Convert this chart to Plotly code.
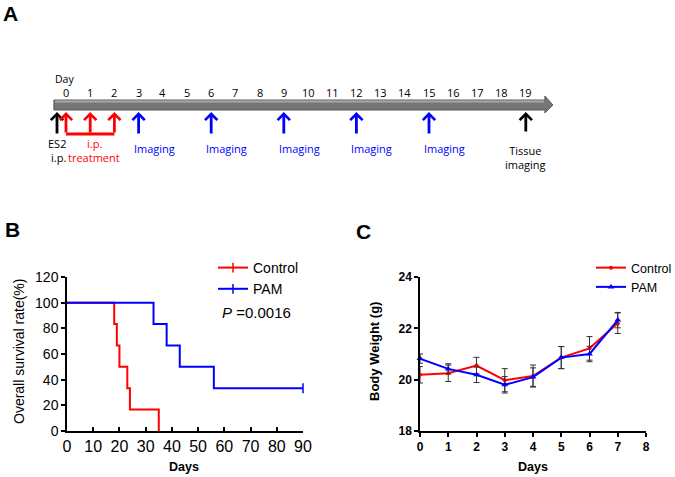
import plotly.graph_objects as go

# ---- Panel A: experiment timeline ----
timeline_days = list(range(20))
es2_days = [0]
treatment_days = [0, 1, 2]
imaging_days = [3, 6, 9, 12, 15]
tissue_days = [19]

# ---- Panel B: overall survival (Kaplan-Meier steps) ----
ctrl_time = [0, 18, 19, 20, 23, 24, 35]
ctrl_surv = [100, 83.3, 66.7, 50, 33.3, 16.7, 0]
pam_time = [0, 33, 38, 43, 56, 90]
pam_surv = [100, 83.3, 66.7, 50, 33.3, 33.3]
pam_censor_time = [90]
pam_censor_surv = [33.3]
p_value = "0.0016"

# ---- Panel C: body weight ----
weight_days = [0, 1, 2, 3, 4, 5, 6, 7]
ctrl_weight = [20.19, 20.25, 20.55, 19.98, 20.14, 20.86, 21.22, 22.2]
ctrl_err = [0.32, 0.32, 0.32, 0.45, 0.43, 0.43, 0.46, 0.4]
pam_weight = [20.82, 20.42, 20.19, 19.8, 20.1, 20.86, 21.0, 22.32]
pam_err = [0.18, 0.2, 0.3, 0.32, 0.36, 0.43, 0.3, 0.3]

RED = "#ff0000"
BLUE = "#0000ff"
FONT = "Arial"
TL_FONT = "Open Sans"

W, H = 675, 477


def px_x(p):
    return p / W


def px_y(p):
    return 1 - p / H


fig = go.Figure()

# timeline bar (arrow shaped), drawn on the day axis
bar_x = [-0.5, 19.79, 19.79, 20.12, 19.79, 19.79, -0.5, -0.5]
bar_y = [px_y(100), px_y(100), px_y(96), px_y(105), px_y(113), px_y(110), px_y(110), px_y(100)]
fig.add_trace(go.Scatter(x=bar_x, y=bar_y, mode="lines", fill="toself",
                         fillcolor="#767676", line=dict(color="#5a5a5a", width=1),
                         xaxis="x3", yaxis="y3", showlegend=False, hoverinfo="skip"))
fig.add_trace(go.Scatter(x=[-0.45, 19.75], y=[px_y(101.5)] * 2, mode="lines",
                         line=dict(color="#a8a8a8", width=2),
                         xaxis="x3", yaxis="y3", showlegend=False, hoverinfo="skip"))
# bracket joining the treatment arrows
fig.add_trace(go.Scatter(x=[treatment_days[0], treatment_days[-1]], y=[px_y(134)] * 2,
                         mode="lines", line=dict(color=RED, width=2.8),
                         xaxis="x3", yaxis="y3", showlegend=False, hoverinfo="skip"))

# ---- Panel B traces ----
fig.add_trace(go.Scatter(x=ctrl_time, y=ctrl_surv, mode="lines", line_shape="hv",
                         line=dict(color=RED, width=2), cliponaxis=False,
                         legendgroup="c", showlegend=False))
fig.add_trace(go.Scatter(x=pam_time, y=pam_surv, mode="lines", line_shape="hv",
                         line=dict(color=BLUE, width=2), cliponaxis=False,
                         legendgroup="p", showlegend=False))
fig.add_trace(go.Scatter(x=pam_censor_time, y=pam_censor_surv, mode="markers",
                         marker=dict(symbol="line-ns-open", size=7, color=BLUE,
                                     line=dict(color=BLUE, width=1.5)),
                         cliponaxis=False, legendgroup="p", showlegend=False))
# legend entries
for name, col, grp in [("Control", RED, "c"), ("PAM", BLUE, "p")]:
    fig.add_trace(go.Scatter(x=[None], y=[None], mode="lines+markers", name=name,
                             line=dict(color=col, width=2), legendgroup=grp,
                             marker=dict(symbol="line-ns-open", size=7, color=col,
                                         line=dict(color=col, width=1.5))))

# ---- Panel C traces ----
fig.add_trace(go.Scatter(x=weight_days, y=ctrl_weight, mode="lines+markers", name="Control",
                         line=dict(color=RED, width=2), marker=dict(symbol="circle", size=4, color=RED),
                         error_y=dict(type="data", array=ctrl_err, color="#333333", thickness=1, width=3),
                         xaxis="x2", yaxis="y2", legend="legend2", cliponaxis=False))
fig.add_trace(go.Scatter(x=weight_days, y=pam_weight, mode="lines+markers", name="PAM",
                         line=dict(color=BLUE, width=2), marker=dict(symbol="triangle-up", size=6, color=BLUE),
                         error_y=dict(type="data", array=pam_err, color="#333333", thickness=1, width=3),
                         xaxis="x2", yaxis="y2", legend="legend2", cliponaxis=False))

annotations = []

# panel letters
for letter, x, y in [("A", 10, 13), ("B", 12, 229), ("C", 363, 231)]:
    annotations.append(dict(text=letter, x=px_x(x), y=px_y(y), xref="paper", yref="paper",
                            showarrow=False, font=dict(family=FONT, size=21, color="black", weight="bold")))

# timeline day labels
annotations.append(dict(text="Day", x=0, y=px_y(79), xref="x3", yref="paper", xanchor="left",
                        xshift=-13, showarrow=False, font=dict(family=TL_FONT, size=10.5, color="black")))
for d in timeline_days:
    annotations.append(dict(text=str(d), x=d, y=px_y(92), xref="x3", yref="paper",
                            showarrow=False, font=dict(family=TL_FONT, size=11, color="black")))


def tl_arrow(day, color, shift=0, length=23):
    return dict(text="", x=day, y=px_y(112), xref="x3", yref="paper", xshift=shift,
                showarrow=True, ax=0, ay=length, arrowhead=4, arrowsize=0.85,
                arrowwidth=2.8, arrowcolor=color, standoff=0)


for d in es2_days:
    annotations.append(tl_arrow(d, "black", shift=-9))
for d in treatment_days:
    annotations.append(tl_arrow(d, RED, length=22))
for d in imaging_days:
    annotations.append(tl_arrow(d, BLUE))
    annotations.append(dict(text="Imaging", x=d, y=px_y(148), xref="x3", yref="paper",
                            xanchor="left", xshift=-7, showarrow=False,
                            font=dict(family=TL_FONT, size=11, color=BLUE)))
for d in tissue_days:
    annotations.append(tl_arrow(d, "black", length=21))
    annotations.append(dict(text="Tissue<br>imaging", x=d, y=px_y(157.5), xref="x3", yref="paper",
                            showarrow=False, font=dict(family=TL_FONT, size=11, color="black")))

annotations += [
    dict(text="ES2", x=es2_days[0], y=px_y(143), xref="x3", yref="paper", xshift=-9,
         showarrow=False, font=dict(family=TL_FONT, size=11, color="black")),
    dict(text="i.p.", x=es2_days[0], y=px_y(157), xref="x3", yref="paper", xanchor="right",
         xshift=2, showarrow=False, font=dict(family=TL_FONT, size=11, color="black")),
    dict(text="treatment", x=treatment_days[0], y=px_y(157), xref="x3", yref="paper",
         xanchor="left", xshift=0, showarrow=False, font=dict(family=TL_FONT, size=11, color=RED)),
    dict(text="i.p.", x=treatment_days[1], y=px_y(144), xref="x3", yref="paper", xshift=4,
         showarrow=False, font=dict(family=TL_FONT, size=11, color=RED)),
]

# panel B texts
annotations += [
    dict(text="<i>P</i> =" + p_value, x=px_x(220), y=px_y(312), xref="paper", yref="paper",
         xanchor="left", showarrow=False, font=dict(family=FONT, size=15, color="black")),
    dict(text="Overall survival rate(%)", x=px_x(19), y=px_y(352), xref="paper", yref="paper",
         textangle=-90, showarrow=False, font=dict(family=FONT, size=14, color="black")),
    dict(text="Days", x=px_x(184), y=px_y(467), xref="paper", yref="paper",
         showarrow=False, font=dict(family=FONT, size=12.5, color="black", weight="bold")),
    # panel C texts
    dict(text="Body Weight (g)", x=px_x(374), y=px_y(352), xref="paper", yref="paper",
         textangle=-90, showarrow=False, font=dict(family=FONT, size=13, color="black", weight="bold")),
    dict(text="Days", x=px_x(533), y=px_y(467), xref="paper", yref="paper",
         showarrow=False, font=dict(family=FONT, size=12.5, color="black", weight="bold")),
]

# paper-referenced annotations otherwise snap to the nearest side
for a in annotations:
    a.setdefault("xanchor", "center")
    a.setdefault("yanchor", "middle")

axis_common = dict(showgrid=False, zeroline=False, showline=True, linecolor="black",
                   linewidth=1.5, tickcolor="black", tickwidth=1.5, ticklen=4, automargin=False)

fig.update_layout(
    width=W, height=H,
    margin=dict(l=0, r=0, t=0, b=0, autoexpand=False),
    paper_bgcolor="white", plot_bgcolor="rgba(0,0,0,0)",
    font=dict(family=FONT, color="black"),
    xaxis=dict(domain=[px_x(67), px_x(303)], range=[0, 90], tickvals=list(range(0, 91, 10)),
               ticks="inside", tickfont=dict(size=16), anchor="y", **axis_common),
    yaxis=dict(domain=[px_y(431), px_y(277)], range=[0, 120], tickvals=list(range(0, 121, 20)),
               ticks="outside", tickfont=dict(size=14), anchor="x", **axis_common),
    xaxis2=dict(domain=[px_x(420), px_x(646)], range=[0, 8], tickvals=list(range(0, 9)),
                ticks="outside", tickfont=dict(size=12, weight="bold"), anchor="y2", **axis_common),
    yaxis2=dict(domain=[px_y(431), px_y(277)], range=[18, 24], tickvals=[18, 20, 22, 24],
                ticks="outside", tickfont=dict(size=12, weight="bold"), anchor="x2", **axis_common),
    xaxis3=dict(domain=[0, 1], range=[-66 / 24.2, (W - 66) / 24.2], visible=False, anchor="y3"),
    yaxis3=dict(domain=[px_y(185), 1], range=[px_y(185), 1], visible=False, anchor="x3"),
    legend=dict(x=px_x(213), y=px_y(252), xanchor="left", yanchor="top",
                font=dict(family=FONT, size=14), bgcolor="rgba(0,0,0,0)",
                tracegroupgap=0, itemwidth=30),
    legend2=dict(x=px_x(591), y=px_y(253), xanchor="left", yanchor="top",
                 font=dict(family=FONT, size=12.5), bgcolor="rgba(0,0,0,0)",
                 tracegroupgap=0, itemwidth=30),
    annotations=annotations,
    showlegend=True,
)

fig.write_html("out.html", config={"displayModeBar": False},
               post_script="document.body.style.margin = '0';")
